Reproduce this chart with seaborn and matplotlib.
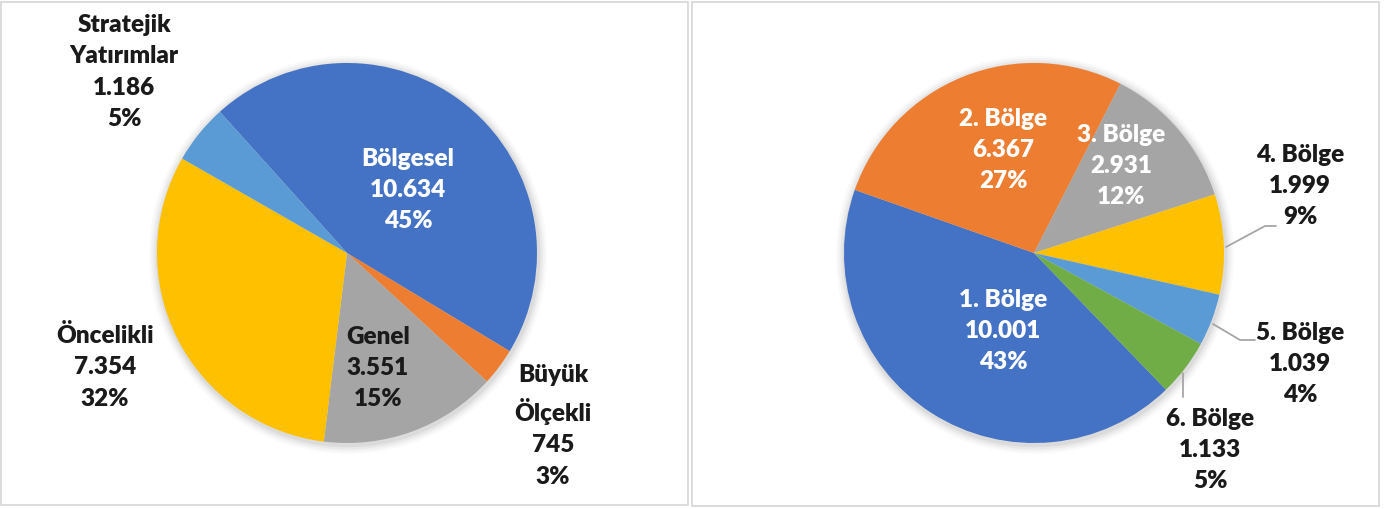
import matplotlib.pyplot as plt
import matplotlib.patches as mpatches
import seaborn as sns

# --- veri ---
sol_kategoriler = ['Bölgesel', 'Büyük\nÖlçekli', 'Genel', 'Öncelikli', 'Stratejik\nYatırımlar']
sol_degerler = [10634, 745, 3551, 7354, 1186]
sol_etiket_deger = ['10.634', '745', '3.551', '7.354', '1.186']
sol_yuzde = ['45%', '3%', '15%', '32%', '5%']

sag_kategoriler = ['1. Bölge', '2. Bölge', '3. Bölge', '4. Bölge', '5. Bölge', '6. Bölge']
sag_degerler = [10001, 6367, 2931, 1999, 1039, 1133]
sag_etiket_deger = ['10.001', '6.367', '2.931', '1.999', '1.039', '1.133']
sag_yuzde = ['43%', '27%', '12%', '9%', '4%', '5%']

renkler = ['#4472C4', '#ED7D31', '#A5A5A5', '#FFC000', '#5B9BD5', '#70AD47']

sns.set_theme(style='white')
plt.rcParams['font.family'] = ['Lato', 'DejaVu Sans']

W, H = 1394, 509
R = 190
fig = plt.figure(figsize=(W / 100, H / 100), dpi=100)

# panel cerceveleri
for (x0, y0, x1, y1) in [(1, 2, 688, 505), (692, 2, 1379, 506)]:
    fig.patches.append(mpatches.Rectangle((x0 / W, 1 - y1 / H), (x1 - x0) / W, (y1 - y0) / H,
                                          transform=fig.transFigure, fill=False,
                                          edgecolor='#d9d9d9', linewidth=1.3))


def pasta_ekseni(cx, cy):
    ax = fig.add_axes([(cx - R) / W, (H - cy - R) / H, 2 * R / W, 2 * R / H])
    ax.axis('off')
    # hafif golge
    for i, a in enumerate([0.05, 0.04, 0.03, 0.02]):
        ax.add_patch(mpatches.Circle((0.005, -0.01), 1.0 + 0.012 * (i + 1), color='#000000',
                                     alpha=a, lw=0, clip_on=False, zorder=0))
    return ax, cx, cy


def sinirla(ax):
    ax.set_xlim(-1, 1)
    ax.set_ylim(-1, 1)
    ax.set_aspect('equal')
    ax.axis('off')


def yaz(ax, cx, cy, px, py, metin, renk):
    ax.text((px - cx) / R, (cy - py) / R, metin, ha='center', va='center',
            fontsize=17.5, fontweight='heavy', color=renk, linespacing=1.52,
            clip_on=False, zorder=5)


koyu = '#1a1a1a'

# --- sol pasta ---
ax1, cx1, cy1 = pasta_ekseni(347, 253)
ax1.pie(sol_degerler, colors=renkler[:5], startangle=132, counterclock=False,
        radius=1, wedgeprops=dict(linewidth=0))
sinirla(ax1)
sol_konum = [(408, 190, 'white'), (553, 426, koyu), (378, 368, koyu), (105, 367, koyu), (124, 72, koyu)]
for (px, py, c), ad, d, y in zip(sol_konum, sol_kategoriler, sol_etiket_deger, sol_yuzde):
    yaz(ax1, cx1, cy1, px, py, f'{ad}\n{d}\n{y}', c)

# --- sag pasta ---
ax2, cx2, cy2 = pasta_ekseni(1034, 253)
ax2.pie(sag_degerler, colors=renkler, startangle=-46, counterclock=False,
        radius=1, wedgeprops=dict(linewidth=0))
sinirla(ax2)
sag_konum = [(1003, 331, 'white'), (1003, 150, 'white'), (1121, 166, 'white'),
             (1300, 186, koyu), (1300, 364, koyu), (1210, 450, koyu)]
for (px, py, c), ad, d, y in zip(sag_konum, sag_kategoriler, sag_etiket_deger, sag_yuzde):
    yaz(ax2, cx2, cy2, px, py, f'{ad}\n{d}\n{y}', c)

# kilavuz cizgileri
kilavuz = [[(1226, 247), (1265, 226), (1276, 226)],
           [(1213, 324), (1240, 340), (1255, 340)],
           [(1183, 373), (1183, 397)]]
for noktalar in kilavuz:
    xs = [(p[0] - cx2) / R for p in noktalar]
    ys = [(cy2 - p[1]) / R for p in noktalar]
    ax2.plot(xs, ys, color='#a6a6a6', lw=1.3, clip_on=False, zorder=4)

fig.savefig('out.png', dpi=100, facecolor='white')
